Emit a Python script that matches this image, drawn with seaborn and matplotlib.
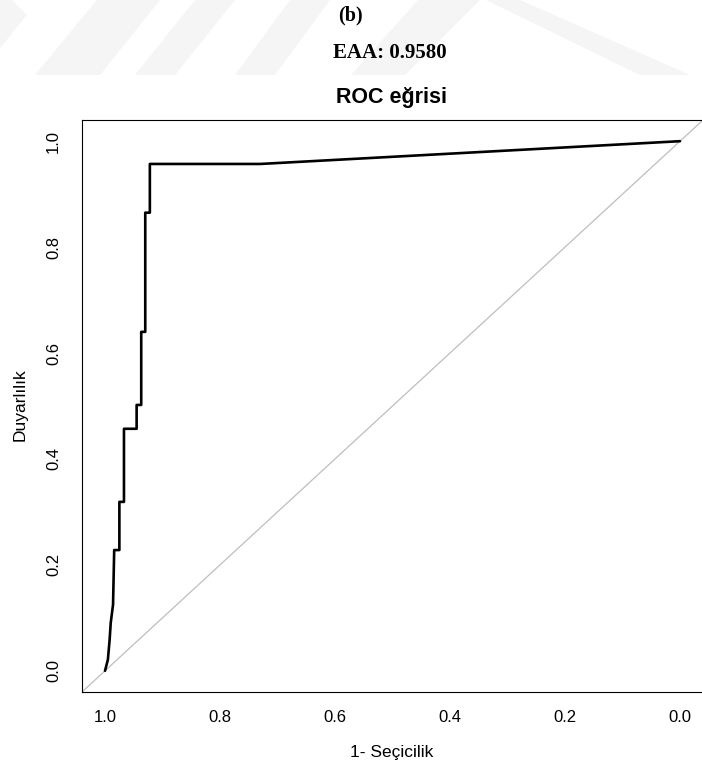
import matplotlib
matplotlib.use("Agg")
import matplotlib.pyplot as plt
from matplotlib.patches import Polygon
import numpy as np
import pandas as pd
import seaborn as sns

# ROC curve points (specificity, sensitivity)
specificity = [1.000, 0.995, 0.992, 0.990, 0.986, 0.984, 0.975, 0.975, 0.967, 0.967,
               0.945, 0.945, 0.937, 0.937, 0.930, 0.930, 0.922, 0.922, 0.730, 0.000]
sensitivity = [0.000, 0.021, 0.058, 0.091, 0.125, 0.228, 0.228, 0.319, 0.319, 0.457,
               0.457, 0.502, 0.502, 0.640, 0.640, 0.865, 0.865, 0.957, 0.957, 1.000]
tick_values = [1.0, 0.8, 0.6, 0.4, 0.2, 0.0]
tick_labels = ["1.0", "0.8", "0.6", "0.4", "0.2", "0.0"]

panel_label = "(b)"
auc_label = "EAA: 0.9580"
title = "ROC eğrisi"
x_label = "1- Seçicilik"
y_label = "Duyarlılık"

sns.set_style("white")
plt.rcParams["font.family"] = ["Liberation Sans", "DejaVu Sans"]
plt.rcParams["text.color"] = "black"
plt.rcParams["axes.labelcolor"] = "black"
plt.rcParams["xtick.color"] = "black"
plt.rcParams["ytick.color"] = "black"

W, H = 702, 769
fig = plt.figure(figsize=(W / 100, H / 100), dpi=100)
fig.patch.set_facecolor("white")


def px(x, y):
    return (x / W, 1 - y / H)


# faint background emblem in the header band
wm_color = "#f5f5f5"
shapes = [
    [(0, 0), (12, 0), (27, 15), (0, 48)],
    [(97, 0), (160, 0), (100, 75), (35, 75)],
    [(195, 0), (235, 0), (175, 75), (135, 75)],
    [(290, 0), (330, 0), (275, 75), (235, 75)],
    [(418, 0), (480, 0), (405, 75), (351, 75)],
    [(486, 0), (520, 0), (690, 75), (640, 75)],
]
for s in shapes:
    fig.patches.append(Polygon([px(*p) for p in s], closed=True, transform=fig.transFigure,
                               facecolor=wm_color, edgecolor="none", zorder=0))

ax = fig.add_axes([82 / W, 1 - 692 / H, (703 - 82) / W, (692 - 120) / H])
ax.set_facecolor("white")

df = pd.DataFrame({"spec": specificity, "sens": sensitivity})
ax.axline((1.0, 0.0), (0.0, 1.0), color="#bebebe", lw=0.9, zorder=1)
sns.lineplot(data=df, x="spec", y="sens", sort=False, estimator=None,
             color="black", lw=1.9, ax=ax, zorder=3)

ax.set_xlim(1.04, -0.04)
ax.set_ylim(-0.04, 1.04)
ax.set_xticks(tick_values)
ax.set_xticklabels(tick_labels)
ax.set_yticks(tick_values)
ax.set_yticklabels(tick_labels)
ax.tick_params(axis="both", direction="out", length=5.2, width=0.8, color="black",
               labelsize=12, labelcolor="black")
ax.tick_params(axis="x", pad=8)
ax.tick_params(axis="y", pad=10)
plt.setp(ax.get_yticklabels(), rotation=90, va="center")
for sp in ax.spines.values():
    sp.set_color("black")
    sp.set_linewidth(0.8)

ax.set_xlabel("")
ax.set_ylabel("")
fig.text(*px(392, 752), x_label, ha="center", va="center", fontsize=12.5, color="black")
fig.text(*px(20, 405), y_label, ha="center", va="center", fontsize=12.5, rotation=90,
         color="black")
fig.text(*px(392, 98), title, ha="center", va="center", fontsize=15.5, fontweight="bold",
         color="black")

fig.text(*px(350, 15), panel_label, ha="center", va="center", fontsize=14.5,
         fontweight="bold", family=["Liberation Serif", "DejaVu Serif"], color="black")
fig.text(*px(390, 53), auc_label, ha="center", va="center", fontsize=15,
         fontweight="bold", family=["Liberation Serif", "DejaVu Serif"], color="black")

fig.savefig("out.png", dpi=100)
